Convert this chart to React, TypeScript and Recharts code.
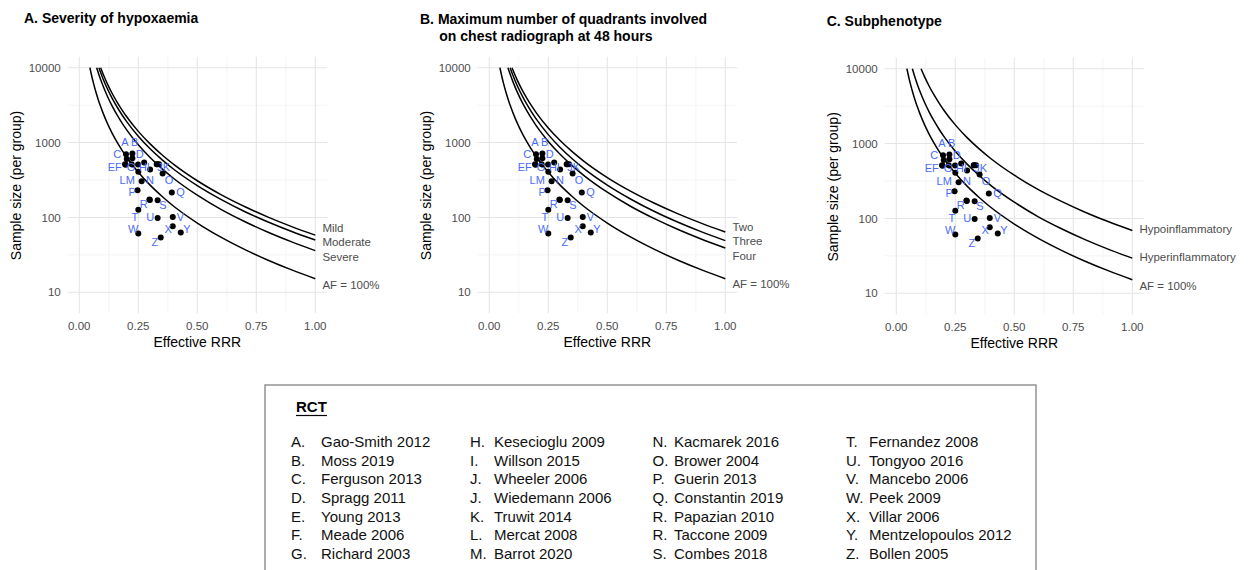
import React from 'react';
import { ComposedChart, Line, Scatter, XAxis, YAxis, CartesianGrid } from 'recharts';

const FONT = '"Liberation Sans", Arial, Helvetica, sans-serif';
const LABEL_BLUE = '#4a6cf7';
const GREY_TEXT = '#4d4d4d';

// sample size curves: [effective RRR, sample size per group]
const curveAF = [[0.045, 10000], [0.05, 8440], [0.06, 6215], [0.07, 4770], [0.08, 3772], [0.09, 3047], [0.1, 2512], [0.12, 1777], [0.14, 1319], [0.16, 1014], [0.18, 799], [0.2, 642], [0.25, 401], [0.3, 270], [0.35, 192], [0.4, 141], [0.5, 84.2], [0.6, 54.5], [0.7, 37.4], [0.8, 26.8], [0.9, 19.9], [1, 15.2]];
const curveMild = [[0.0905, 10000], [0.1, 8383], [0.12, 5997], [0.14, 4487], [0.16, 3477], [0.18, 2757], [0.2, 2228], [0.25, 1411], [0.3, 960], [0.35, 688], [0.4, 511], [0.5, 309], [0.6, 202], [0.7, 140], [0.8, 101], [0.9, 75.4], [1, 58]];
const curveModerate = [[0.083, 10000], [0.09, 8673], [0.1, 7194], [0.12, 5146], [0.14, 3854], [0.16, 2987], [0.18, 2369], [0.2, 1917], [0.25, 1213], [0.3, 826], [0.35, 592], [0.4, 440], [0.5, 266], [0.6, 174], [0.7, 120], [0.8, 87], [0.9, 65], [1, 50]];
const curveSevere = [[0.0735, 10000], [0.08, 8639], [0.09, 6995], [0.1, 5773], [0.12, 4097], [0.14, 3047], [0.16, 2347], [0.18, 1850], [0.2, 1489], [0.25, 933], [0.3, 630], [0.35, 448], [0.4, 331], [0.5, 198], [0.6, 128], [0.7, 88.2], [0.8, 63.3], [0.9, 47.1], [1, 36]];
const curveTwo = [[0.096, 10000], [0.1, 9321], [0.12, 6661], [0.14, 4984], [0.16, 3862], [0.18, 3060], [0.2, 2473], [0.25, 1564], [0.3, 1064], [0.35, 762], [0.4, 566], [0.5, 341], [0.6, 223], [0.7, 154.5], [0.8, 111.5], [0.9, 83.3], [1, 64]];
const curveThree = [[0.088, 10000], [0.09, 9614], [0.1, 7935], [0.12, 5619], [0.14, 4180], [0.16, 3216], [0.18, 2535], [0.2, 2038], [0.25, 1277], [0.3, 861], [0.35, 613], [0.4, 452], [0.5, 270], [0.6, 175], [0.7, 120], [0.8, 86.2], [0.9, 64.1], [1, 49]];
const curveFour = [[0.079, 10000], [0.08, 9789], [0.09, 7911], [0.1, 6522], [0.12, 4610], [0.14, 3418], [0.16, 2628], [0.18, 2067], [0.2, 1661], [0.25, 1036], [0.3, 697], [0.35, 495], [0.4, 365], [0.5, 217], [0.6, 140], [0.7, 96.2], [0.8, 68.9], [0.9, 51.1], [1, 39]];
const curveHypo = [[0.105, 10000], [0.12, 7777], [0.14, 5790], [0.16, 4460], [0.18, 3519], [0.2, 2833], [0.25, 1777], [0.3, 1201], [0.35, 855], [0.4, 632], [0.5, 378], [0.6, 245], [0.7, 169], [0.8, 121], [0.9, 90.1], [1, 69]];
const curveHyper = [[0.068, 10000], [0.07, 9519], [0.08, 7510], [0.09, 6069], [0.1, 5000], [0.12, 3530], [0.14, 2615], [0.16, 2006], [0.18, 1578], [0.2, 1266], [0.25, 790], [0.3, 531], [0.35, 377], [0.4, 277], [0.5, 165], [0.6, 106], [0.7, 72.9], [0.8, 52.1], [0.9, 38.6], [1, 29.5]];

// trials
const trialLetter = ['A', 'B', 'C', 'D', 'E', 'F', 'G', 'H', 'I', 'J', 'J', 'K', 'L', 'M', 'N', 'O', 'P', 'Q', 'R', 'R', 'S', 'T', 'U', 'V', 'W', 'X', 'Y', 'Z'];
const trialRRR = [0.198, 0.225, 0.201, 0.225, 0.194, 0.196, 0.222, 0.249, 0.275, 0.328, 0.33, 0.338, 0.25, 0.3, 0.264, 0.353, 0.247, 0.392, 0.297, 0.299, 0.332, 0.25, 0.332, 0.396, 0.25, 0.396, 0.43, 0.345];
const trialN = [700, 715, 605, 618, 514, 505, 514, 509, 542, 514, 512, 514, 406, 437, 304, 386, 231, 215, 173, 171, 169, 127, 98, 101, 61, 76, 63, 54];

// letter labels beside the points
const labelText = ['A', 'B', 'C', 'D', 'EF', 'G', 'HI', 'JK', 'LM', 'N', 'O', 'P', 'Q', 'R', 'S', 'T', 'U', 'V', 'W', 'X', 'Y', 'Z'];
const labelRRR = [0.193, 0.235, 0.161, 0.256, 0.15, 0.219, 0.276, 0.358, 0.203, 0.299, 0.38, 0.224, 0.429, 0.273, 0.354, 0.235, 0.301, 0.429, 0.228, 0.377, 0.456, 0.32];
const labelN = [1022, 1022, 697, 697, 468, 468, 468, 468, 315, 315, 315, 221, 221, 150, 147, 100, 100, 100, 69, 69, 69, 46.5];

// end-of-curve labels
const endTextA = ['Mild', 'Moderate', 'Severe', 'AF = 100%'];
const endNA = [72.1, 46.9, 30.1, 12.7];
const endTextB = ['Two', 'Three', 'Four', 'AF = 100%'];
const endNB = [74.3, 48.3, 31.1, 13.0];
const endTextC = ['Hypoinflammatory', 'Hyperinflammatory', 'AF = 100%'];
const endNC = [71.5, 30.2, 12.5];

const xTicks = [0, 0.25, 0.5, 0.75, 1];
const xMinor = [0.125, 0.375, 0.625, 0.875];
const yTicks = [10, 100, 1000, 10000];
const yMinor = [31.62, 316.2, 3162];

// legend
const legendLetters = [
  ['A.', 'B.', 'C.', 'D.', 'E.', 'F.', 'G.'],
  ['H.', 'I.', 'J.', 'J.', 'K.', 'L.', 'M.'],
  ['N.', 'O.', 'P.', 'Q.', 'R.', 'R.', 'S.'],
  ['T.', 'U.', 'V.', 'W.', 'X.', 'Y.', 'Z.'],
];
const legendNames = [
  ['Gao-Smith 2012', 'Moss 2019', 'Ferguson 2013', 'Spragg 2011', 'Young 2013', 'Meade 2006', 'Richard 2003'],
  ['Kesecioglu 2009', 'Willson 2015', 'Wheeler 2006', 'Wiedemann 2006', 'Truwit 2014', 'Mercat 2008', 'Barrot 2020'],
  ['Kacmarek 2016', 'Brower 2004', 'Guerin 2013', 'Constantin 2019', 'Papazian 2010', 'Taccone 2009', 'Combes 2018'],
  ['Fernandez 2008', 'Tongyoo 2016', 'Mancebo 2006', 'Peek 2009', 'Villar 2006', 'Mentzelopoulos 2012', 'Bollen 2005'],
];

const toPts = (arr: number[][]) => arr.map(([x, n]) => ({ x, n }));
const trials = trialLetter.map((l, i) => ({ letter: l, x: trialRRR[i], n: trialN[i] }));
const trialLabels = labelText.map((t, i) => ({ label: t, x: labelRRR[i], n: labelN[i] }));
const ends = (texts: string[], ns: number[]) => texts.map((t, i) => ({ label: t, x: 1.03, n: ns[i] }));

const dotShape = (p: any) => <circle cx={p.cx} cy={p.cy} r={3} fill="#000" />;
const labelShape = (p: any) => (
  <text x={p.cx} y={p.cy} dy="0.36em" textAnchor="middle" fontSize={11} fontFamily={FONT} fill={LABEL_BLUE}>
    {p.payload.label}
  </text>
);
const endShape = (p: any) => (
  <text x={p.cx} y={p.cy} dy="0.36em" textAnchor="start" fontSize={11.5} fontFamily={FONT} fill={GREY_TEXT}>
    {p.payload.label}
  </text>
);

const PLOT_RIGHT = 327.1;
const tickStyle = { fontSize: 11.5, fill: GREY_TEXT, fontFamily: FONT };

function Panel({ left, top, width, curves, endLabels }: { left: number; top: number; width: number; curves: number[][][]; endLabels: any[] }) {
  return (
    <div style={{ position: 'absolute', left, top }}>
      <ComposedChart width={width} height={340} margin={{ top: 56.7, right: width - PLOT_RIGHT, bottom: 6.7, left: 0 }}>
        <CartesianGrid horizontalValues={yMinor} verticalValues={xMinor} stroke="#f1f1f1" strokeWidth={0.8} />
        <CartesianGrid horizontalValues={yTicks} verticalValues={xTicks} stroke="#e5e5e5" strokeWidth={1.1} />
        <XAxis
          type="number"
          dataKey="x"
          domain={[-0.05, 1.05]}
          ticks={xTicks}
          interval={0}
          tickFormatter={(v: number) => v.toFixed(2)}
          axisLine={false}
          tickLine={false}
          tickSize={0}
          tickMargin={8.5}
          height={20}
          tick={tickStyle}
        />
        <YAxis
          type="number"
          dataKey="n"
          scale="log"
          domain={[5.24, 14030]}
          ticks={yTicks}
          interval={0}
          axisLine={false}
          tickLine={false}
          tickSize={0}
          tickMargin={6.8}
          width={67.5}
          tick={tickStyle}
        />
        {curves.map((c, i) => (
          <Line key={i} data={toPts(c)} dataKey="n" type="monotone" stroke="#000" strokeWidth={1.5} dot={false} activeDot={false} isAnimationActive={false} />
        ))}
        <Scatter data={trials} dataKey="n" shape={dotShape} isAnimationActive={false} />
        <Scatter data={trialLabels} dataKey="n" shape={labelShape} isAnimationActive={false} />
        <Scatter data={endLabels} dataKey="n" shape={endShape} isAnimationActive={false} />
      </ComposedChart>
    </div>
  );
}

function Titles({ dx, dy, lines, titleX, baseY }: { dx: number; dy: number; lines: string[]; titleX: number[]; baseY: number }) {
  return (
    <g fontFamily={FONT}>
      {lines.map((l, i) => (
        <text key={i} x={titleX[i]} y={baseY + i * 16.7} fontSize={14} fontWeight="bold" fill="#000">{l}</text>
      ))}
      <text x={197.3 + dx} y={346.7 + dy} fontSize={14} textAnchor="middle" fill="#000">Effective RRR</text>
      <text transform={`translate(${20.5 + dx},${185.5 + dy}) rotate(-90)`} fontSize={14} textAnchor="middle" fill="#000">Sample size (per group)</text>
    </g>
  );
}

export default function App() {
  const rowY = (r: number) => 447.1 + r * 18.6;
  const letterX = [291, 470, 652.5, 846];
  const nameX = [321, 494, 674, 869];
  return (
    <div style={{ position: 'absolute', left: 0, top: 0, width: 1249, height: 570, background: '#fff', overflow: 'hidden', fontFamily: FONT }}>
      <Panel left={0} top={0} width={410} curves={[curveAF, curveSevere, curveModerate, curveMild]} endLabels={ends(endTextA, endNA)} />
      <Panel left={410} top={0} width={410} curves={[curveAF, curveFour, curveThree, curveTwo]} endLabels={ends(endTextB, endNB)} />
      <Panel left={817} top={1.3} width={432} curves={[curveAF, curveHyper, curveHypo]} endLabels={ends(endTextC, endNC)} />
      <svg width={1249} height={570} style={{ position: 'absolute', left: 0, top: 0, pointerEvents: 'none' }}>
        <Titles dx={0} dy={0} lines={['A. Severity of hypoxaemia']} titleX={[24]} baseY={22.7} />
        <Titles dx={410} dy={0} lines={['B. Maximum number of quadrants involved', 'on chest radiograph at 48 hours']} titleX={[420, 439.3]} baseY={24} />
        <Titles dx={817} dy={1.4} lines={['C. Subphenotype']} titleX={[826.7]} baseY={26} />
        <g fontFamily={FONT}>
          <rect x={265} y={385} width={771} height={200} fill="none" stroke="#8c8c8c" strokeWidth={1.4} />
          <text x={296} y={412} fontSize={15} fontWeight="bold" fill="#000">RCT</text>
          <line x1={296} x2={327} y1={415.5} y2={415.5} stroke="#000" strokeWidth={1.2} />
          {legendLetters.map((col, c) =>
            col.map((l, r) => (
              <g key={`${c}-${r}`}>
                <text x={letterX[c]} y={rowY(r)} fontSize={15} fill="#111">{l}</text>
                <text x={nameX[c]} y={rowY(r)} fontSize={15} fill="#111">{legendNames[c][r]}</text>
              </g>
            ))
          )}
        </g>
      </svg>
    </div>
  );
}
